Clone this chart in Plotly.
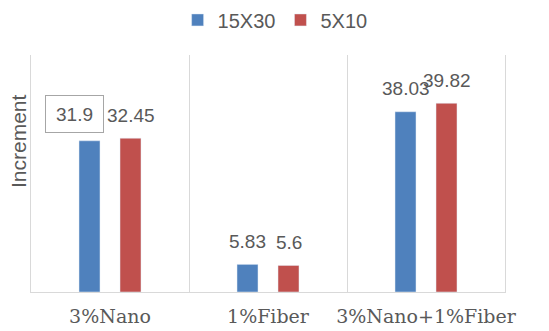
import plotly.graph_objects as go

categories = ["3%Nano", "1%Fiber", "3%Nano+1%Fiber"]
series_names = ["15X30", "5X10"]
values_15x30 = [31.9, 5.83, 38.03]
values_5x10 = [32.45, 5.6, 39.82]
label_15x30 = ["31.9", "5.83", "38.03"]
label_5x10 = ["32.45", "5.6", "39.82"]
colors = ["#4f81bd", "#c0504d"]
y_title = "Increment"

fig = go.Figure()
fig.add_trace(go.Bar(x=categories, y=values_15x30, name=series_names[0],
                     marker=dict(color=colors[0])))
fig.add_trace(go.Bar(x=categories, y=values_5x10, name=series_names[1],
                     marker=dict(color=colors[1])))

label_font = dict(family="Liberation Sans, Arial, sans-serif", size=19, color="#595959")
annotations = []
for i, cat in enumerate(categories):
    for vals, labs, shift in ((values_15x30, label_15x30, -20.5), (values_5x10, label_5x10, 20.5)):
        if i == 0 and shift < 0:
            annotations.append(dict(x=cat, y=vals[i], xref="x", yref="y", text=labs[i],
                                    showarrow=False, xshift=shift - 15, yshift=8,
                                    yanchor="bottom", xanchor="center",
                                    width=45, height=24, borderpad=6, borderwidth=1,
                                    bordercolor="#a6a6a6", font=label_font))
        else:
            annotations.append(dict(x=cat, y=vals[i], xref="x", yref="y", text=labs[i],
                                    showarrow=False, xshift=shift, yshift=23,
                                    yanchor="middle", xanchor="center", font=label_font))

annotations.append(dict(x=-0.0274, y=0.637, xref="paper", yref="paper", text=y_title,
                        textangle=-90, showarrow=False, xanchor="center", yanchor="middle",
                        font=dict(family="Liberation Sans, Arial, sans-serif", size=21,
                                  color="#595959")))

fig.update_layout(
    width=541, height=323,
    margin=dict(l=23, r=44, t=47, b=39, autoexpand=False),
    paper_bgcolor="white", plot_bgcolor="white",
    barmode="group", bargap=0.481, bargroupgap=0.488,
    showlegend=True,
    legend=dict(orientation="h", x=0.515, xanchor="center", y=1.148, yanchor="middle",
                font=dict(family="Liberation Sans, Arial, sans-serif", size=20, color="#595959"),
                itemwidth=30, traceorder="normal"),
    annotations=annotations,
    xaxis=dict(type="category", showgrid=True, gridcolor="#d9d9d9", gridwidth=1,
               tickson="boundaries", ticks="", showline=True, linecolor="#d9d9d9",
               linewidth=1, ticklabelstandoff=7, tickangle=0, automargin=False,
               tickfont=dict(family="DejaVu Serif, Liberation Serif, serif", size=19,
                             color="#595959")),
    yaxis=dict(range=[0, 50], showticklabels=False, showgrid=False, zeroline=False,
               ticks="", showline=True, mirror=True, linecolor="#d9d9d9", linewidth=1,
               automargin=False),
)

fig.write_html("out.html")
